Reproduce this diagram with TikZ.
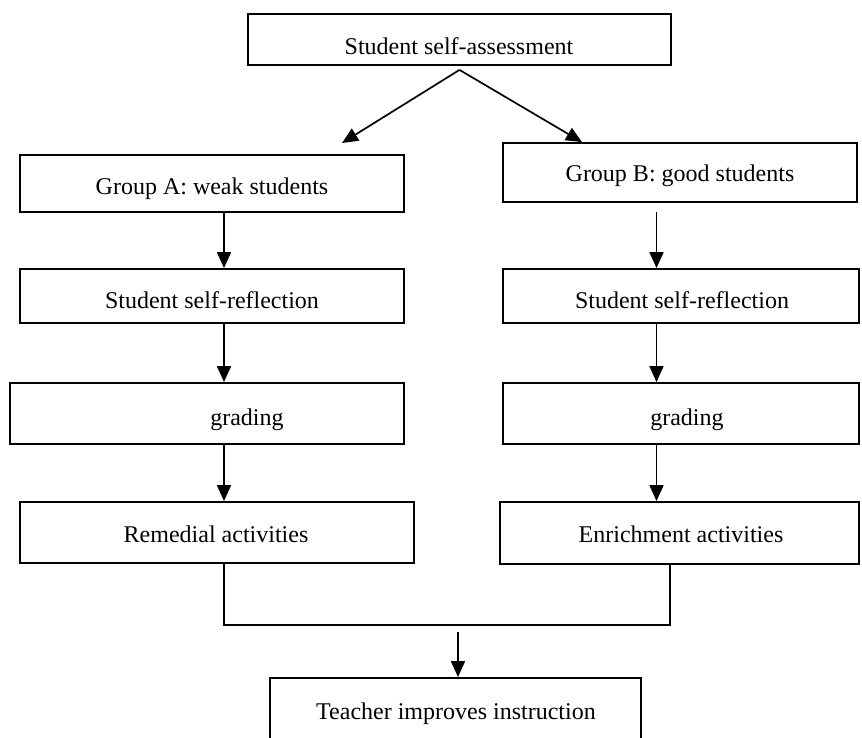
\documentclass[tikz,border=0pt]{standalone}
\usepackage{fontspec}
\setmainfont{Liberation Serif}
\usetikzlibrary{arrows.meta,calc}
\begin{document}
\begin{tikzpicture}[x=1pt,y=-1pt,
  font=\fontsize{24}{29}\selectfont,
  box/.style={draw, line width=1.8pt, inner sep=0pt},
  lbl/.style={anchor=base, inner sep=0pt},
  arr/.style={line width=1.7pt, -{Triangle[length=16pt,width=14pt]}},
  con/.style={line width=1.8pt}]
\clip (0,0) rectangle (862,738);
\fill[white] (0,0) rectangle (862,738);

% boxes
\node[box, minimum width=423pt, minimum height=51pt] (top) at (459.5,39.5) {};
\node[box, minimum width=384pt, minimum height=57pt] (ga)  at (212,183.5) {};
\node[box, minimum width=384pt, minimum height=54pt] (sra) at (212,296) {};
\node[box, minimum width=394pt, minimum height=61pt] (gra) at (207,413.5) {};
\node[box, minimum width=394pt, minimum height=61pt] (rem) at (217,532.5) {};
\node[box, minimum width=354pt, minimum height=59pt] (gb)  at (680,172.5) {};
\node[box, minimum width=356pt, minimum height=54pt] (srb) at (681,296) {};
\node[box, minimum width=356pt, minimum height=61pt] (grb) at (681,413.5) {};
\node[box, minimum width=359pt, minimum height=62pt] (enr) at (679.5,533) {};
\node[box, minimum width=371pt, minimum height=82pt] (tch) at (455.5,719) {};

% labels
\node[lbl] (ltop) at (459,55)  {Student self-assessment};
\node[lbl] (lga)  at (212,195) {Group A: weak students};
\node[lbl] (lsra) at (212,308) {Student self-reflection};
\node[lbl] (lgra) at (247,425) {grading};
\node[lbl] (lrem) at (216,542) {Remedial activities};
\node[lbl] (lgb)  at (680,182) {Group B: good students};
\node[lbl] (lsrb) at (682,308) {Student self-reflection};
\node[lbl] (lgrb) at (687,425) {grading};
\node[lbl] (lenr) at (681,542) {Enrichment activities};
\node[lbl] (ltch) at (456,719) {Teacher improves instruction};

% helper coordinates
\coordinate (apex) at ([yshift=-4pt]top.south);
\coordinate (tipA) at (342,143);
\coordinate (tipB) at (582,143);
\coordinate (xA) at (224,0);
\coordinate (xB) at (656.5,0);
\coordinate (jL) at (224,625);
\coordinate (jR) at (670,625);
\coordinate (jM) at (458,632);

% top split
\draw[arr] (apex) -- (tipA);
\draw[arr] (apex) -- (tipB |- gb.north);

% left column
\draw[arr] (ga.south -| xA) -- (sra.north -| xA);
\draw[arr] (sra.south -| xA) -- (gra.north -| xA);
\draw[arr] (gra.south -| xA) -- (rem.north -| xA);

% right column
\draw[arr] ($(gb.south -| xB)+(0,9)$) -- (srb.north -| xB);
\draw[arr] (srb.south -| xB) -- (grb.north -| xB);
\draw[arr] (grb.south -| xB) -- (enr.north -| xB);

% merge
\draw[con] (rem.south -| jL) -- (jL) -- (jR) -- (enr.south -| jR);
\draw[arr] (jM) -- (jM |- tch.north);
\end{tikzpicture}
\end{document}
